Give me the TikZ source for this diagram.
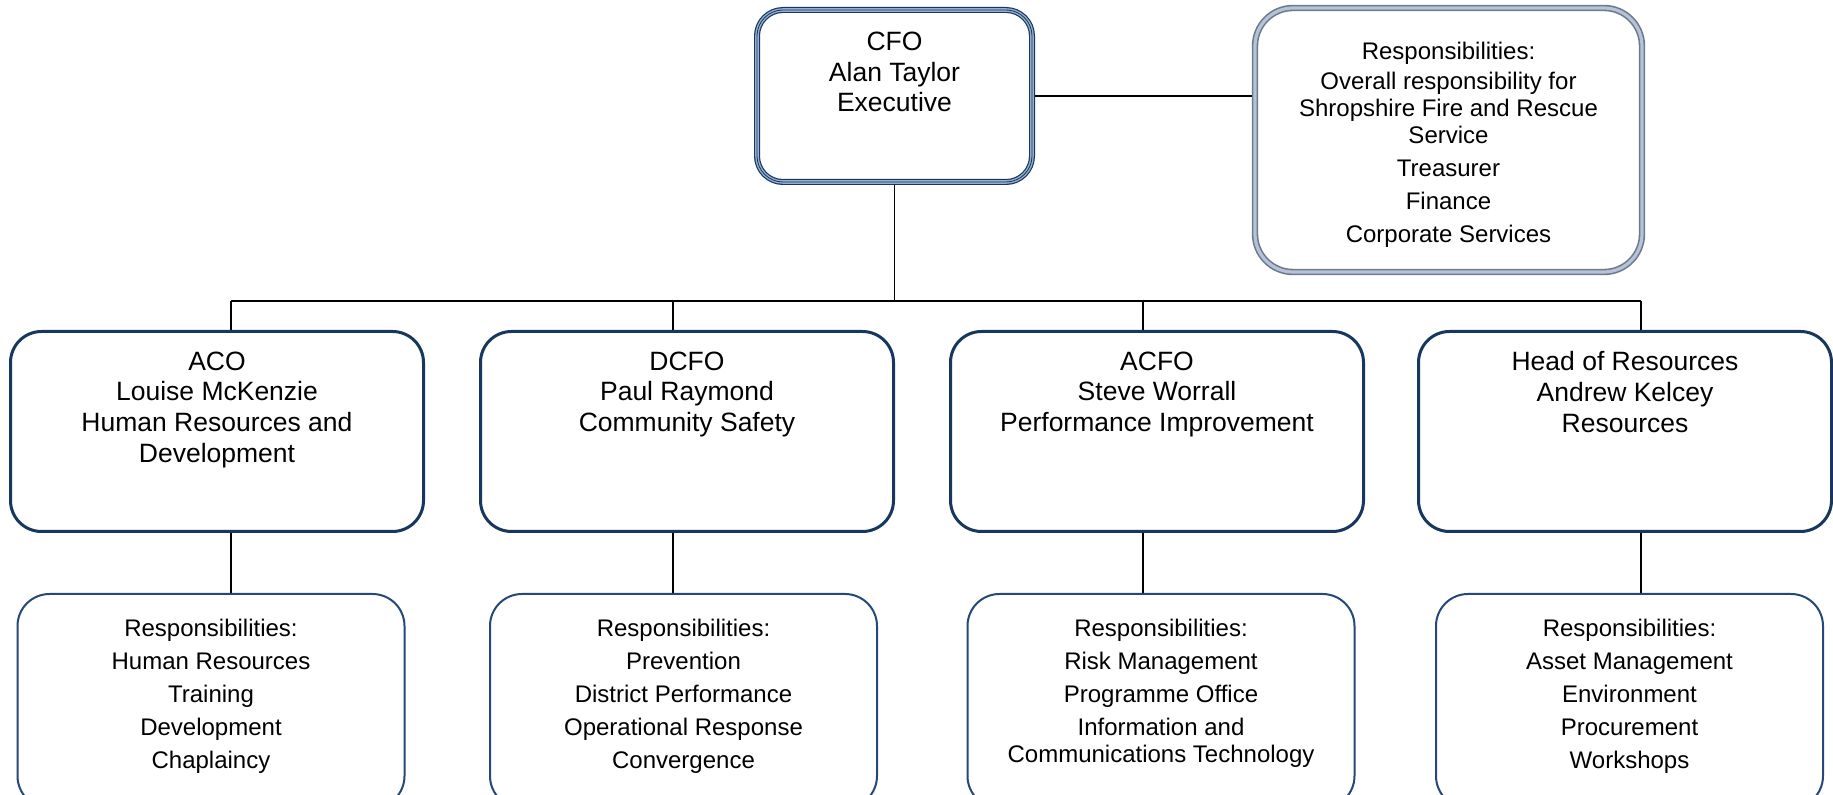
\documentclass[tikz,border=0pt]{standalone}
\usepackage{fontspec}
\setmainfont{Liberation Sans}
\usetikzlibrary{positioning,calc,backgrounds}
\definecolor{navy}{RGB}{23,55,94}
\definecolor{ocean}{RGB}{36,72,120}
\definecolor{steel}{RGB}{150,175,205}
\definecolor{slate}{RGB}{110,122,140}
\definecolor{mist}{RGB}{180,195,215}
\tikzset{
  chief/.style={draw=navy,line width=0.6pt,double=steel,double distance=1.8pt,fill=white,
    rounded corners=13pt,minimum width=137.5pt,minimum height=86pt,outer sep=0pt},
  remit/.style={draw=slate,line width=0.8pt,double=mist,double distance=1.6pt,fill=white,
    rounded corners=19pt,minimum width=193.5pt,minimum height=132pt},
  officer/.style={draw=navy,line width=1.5pt,fill=white,rounded corners=15.5pt,
    minimum width=206.5pt,minimum height=100pt},
  duty/.style={draw=ocean,line width=1pt,fill=white,rounded corners=16pt,
    minimum width=193.5pt,minimum height=107pt},
  lbl/.style={align=center,inner sep=0pt,anchor=north,font=\fontsize{13.25}{15.35}\selectfont},
  note/.style={align=center,inner sep=0pt,anchor=north,font=\fontsize{12}{13.5}\selectfont},
  link/.style={draw=black,line width=0.8pt},
}

\begin{document}
\begin{tikzpicture}[x=0.5pt,y=-0.5pt]
  \useasboundingbox (0,0) rectangle (1833,795);
  \clip (0,0) rectangle (1833,795);
  % chief officer and remit
  \node[chief] (cfo) at (894.5,96) {};
  \draw[navy,line width=0.4pt,rounded corners=13pt] (cfo.south west) rectangle (cfo.north east);
  \node[lbl] at ([yshift=-10.8pt]cfo.north) {CFO\\Alan Taylor\\Executive};
  \node[remit] (cforemit) at (1448.5,140) {};
  \node[note] at ([yshift=-17.3pt]cforemit.north) {Responsibilities:\\[1.5pt]Overall responsibility for\\Shropshire Fire and Rescue\\Service\\[3pt]Treasurer\\[3pt]Finance\\[3pt]Corporate Services};
  % directors
  \node[officer] (aco) at (217,431.5) {};
  \node[lbl] at ([yshift=-10.6pt]aco.north) {ACO\\Louise McKenzie\\Human Resources and\\Development};
  \node[officer] (dcfo) at (687,431.5) {};
  \node[lbl] at ([yshift=-10.6pt]dcfo.north) {DCFO\\Paul Raymond\\Community Safety};
  \node[officer] (acfo) at (1157,431.5) {};
  \node[lbl] at ([yshift=-10.6pt]acfo.north) {ACFO\\Steve Worrall\\Performance Improvement};
  \node[officer] (head) at (1625,431.5) {};
  \node[lbl] at ([yshift=-10.6pt]head.north) {Head of Resources\\Andrew Kelcey\\Resources};
  % their remits
  \node[duty] (acoremit) at (211,701) {};
  \node[note] at ([yshift=-12.8pt]acoremit.north) {Responsibilities:\\[3pt]Human Resources\\[3pt]Training\\[3pt]Development\\[3pt]Chaplaincy};
  \node[duty] (dcforemit) at (683.5,701) {};
  \node[note] at ([yshift=-12.8pt]dcforemit.north) {Responsibilities:\\[3pt]Prevention\\[3pt]District Performance\\[3pt]Operational Response\\[3pt]Convergence};
  \node[duty] (acforemit) at (1161,701) {};
  \node[note] at ([yshift=-12.8pt]acforemit.north) {Responsibilities:\\[3pt]Risk Management\\[3pt]Programme Office\\[3pt]Information and\\Communications Technology};
  \node[duty] (headremit) at (1629.5,701) {};
  \node[note] at ([yshift=-12.8pt]headremit.north) {Responsibilities:\\[3pt]Asset Management\\[3pt]Environment\\[3pt]Procurement\\[3pt]Workshops};
  % connectors
  \begin{scope}[on background layer]
    \foreach \n/\x in {aco/231,dcfo/673,acfo/1143,head/1641}
      \coordinate (tap\n) at (\x,301);
    \draw[link] (cfo.east) -- (cfo.east -| cforemit.west);
    \draw[link] (cfo.south) -- (cfo.south |- tapaco);
    \draw[link] (tapaco) -- (taphead);
    \foreach \n in {aco,dcfo,acfo,head}
      \draw[link] (tap\n) -- (tap\n |- \n.north) (tap\n |- \n.south) -- (tap\n |- \n remit.north);
  \end{scope}
\end{tikzpicture}
\end{document}
